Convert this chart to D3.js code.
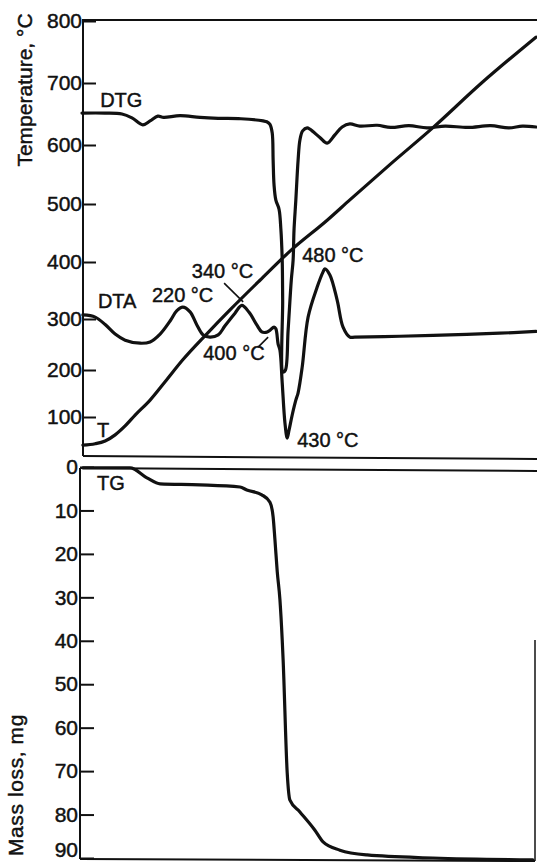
<!DOCTYPE html>
<html>
<head>
<meta charset="utf-8">
<script src="https://cdn.jsdelivr.net/npm/d3@7"></script>
<style>
  html, body { margin: 0; padding: 0; background: #fff; }
  svg { display: block; }
  text { font-family: "Liberation Sans", Arial, sans-serif; fill: #111; stroke: #111; stroke-width: 0.45px; }
</style>
</head>
<body>
<script>
// ---------------- data ----------------
// time axis: arbitrary units 0..100 across the plot width
const tempTicks = [100, 200, 300, 400, 500, 600, 700, 800];
const massTicks = [0, 10, 20, 30, 40, 50, 60, 70, 80, 90];

// T curve: temperature (°C) vs time
const tTime = [0.2, 2.9, 5.1, 7.3, 9.5, 11.7, 15, 18.3, 22.2, 27.5, 32.6, 39.2, 46, 54, 59, 68, 77.3, 88, 100];
const tTemp = [40, 43, 49, 62, 81, 104, 136, 175, 220, 271, 316, 368, 420, 472, 507, 568, 628, 700, 774];

// DTG curve (arbitrary signal units)
const dtgTime = [0, 5, 8.8, 11, 13.4, 15, 16.7, 18, 21.6, 26, 30, 35, 39.9, 40.7, 41.4, 41.9, 42.1, 42.3, 42.7, 43.4, 43.8, 44.1, 44.2, 44.3, 44.8, 45.4, 46.1, 46.5, 46.7, 47.1, 47.6, 48.0, 48.6, 49.6, 50.2, 52.4, 54.0, 55.7, 57.3, 59, 61.2, 65, 68, 72, 76, 80, 85, 90, 94, 97, 100];
const dtgValue = [78.6, 78.6, 78.4, 77.5, 75.9, 76.8, 77.9, 77.6, 78.0, 77.6, 77.4, 77.3, 76.8, 76.6, 76.0, 74.0, 67.8, 62.1, 58.6, 56.5, 52.0, 44.8, 35.6, 19.1, 19.5, 28.7, 40.2, 44.8, 51.7, 58.6, 67.8, 72.4, 74.5, 75.2, 74.9, 73.0, 71.7, 73.6, 75.4, 76.1, 75.6, 75.8, 75.3, 75.7, 75.2, 75.6, 75.3, 75.7, 75.2, 75.6, 75.4];

// DTA curve (arbitrary signal units)
const dtaTime = [0.2, 2.9, 5.1, 7.3, 9.5, 12.8, 15, 17.2, 19.4, 20.9, 22.2, 23.8, 25.3, 26.7, 28.2, 30.0, 31.5, 33.7, 35.2, 36.8, 38.5, 39.6, 40.5, 41.3, 42.3, 42.7, 43.2, 43.6, 44.1, 44.7, 45.2, 45.6, 46.3, 47.1, 47.6, 48.5, 49.8, 51.8, 53.1, 53.5, 54.6, 56.2, 57.5, 59.0, 60.1, 70, 81, 92, 100];
const dtaValue = [32.2, 31.7, 30.0, 27.8, 26.4, 25.7, 26.0, 27.8, 30.8, 33.2, 34.0, 32.9, 29.9, 27.6, 27.1, 27.6, 29.7, 32.6, 34.4, 32.8, 29.9, 28.3, 28.2, 28.6, 29.4, 29.0, 25.5, 24.1, 16.6, 7.4, 3.9, 5.7, 9.2, 12.6, 14.3, 20.2, 31.7, 38.6, 42.1, 42.8, 41.4, 35.6, 29.4, 27.1, 27.1, 27.3, 27.6, 28.0, 28.4];

// TG curve: mass loss (mg) vs time
const tgTime = [0.2, 5, 10.6, 14.3, 17.2, 26, 34.8, 36.3, 39.6, 41.4, 42.1, 42.5, 43.0, 43.6, 44.1, 44.3, 45.2, 45.8, 48.0, 51.3, 53.1, 56.8, 62.8, 77.3, 99.3];
const tgMass = [0.2, 0.2, 0.2, 2.5, 3.9, 4.1, 4.6, 5.3, 6.4, 8.1, 11.5, 16.8, 24.0, 30.6, 39.8, 44.4, 70.4, 76.7, 79.4, 83.6, 86.3, 88.2, 89.3, 90.0, 90.4];

// annotations
const upperLabels = ["DTG", "DTA", "220 °C", "340 °C", "400 °C", "480 °C", "430 °C", "T"];
const upperLabelTime = [4.0, 3.5, 15.4, 24.2, 26.7, 48.5, 47.4, 3.3];
const upperLabelValue = [80.0, 33.8, 35.2, 40.7, 21.8, 44.4, 1.8, 4.1];
const leaderTime = [[31.3, 35.5], [38.8, 41.0]];
const leaderValue = [[39.5, 35.2], [24.8, 27.1]];
const lowerLabels = ["TG"];
const lowerLabelTime = [3.3];
const lowerLabelMass = [5.3];

// ---------------- drawing ----------------
const W = 537, H = 864;
const svg = d3.select("body").append("svg").attr("width", W).attr("height", H);
const ink = "#111";

const x = d3.scaleLinear().domain([0, 100]).range([82, 536]);
// the temperature axis of the original is not evenly spaced
const yTemp = d3.scaleLinear().domain(tempTicks).range([417, 370, 319, 262, 204, 145, 83, 21]);
const ySig = d3.scaleLinear().domain([0, 100]).range([455, 20]);
const yMass = d3.scaleLinear().domain([0, 90]).range([467, 858]);

const topP = { left: 83, right: 537, top: 20, bottom: 456 };
const botP = { left: 80, right: 535, top: 468, bottom: 859 };

// frames
const frame = svg.append("g").attr("stroke", ink).attr("stroke-width", 2).attr("fill", "none");
frame.append("line").attr("x1", topP.left).attr("x2", topP.right).attr("y1", topP.top).attr("y2", topP.top);
frame.append("line").attr("x1", topP.left).attr("x2", topP.left).attr("y1", topP.top - 1).attr("y2", topP.bottom);
frame.append("line").attr("x1", topP.left).attr("x2", topP.right).attr("y1", topP.bottom).attr("y2", topP.bottom + 3);
frame.append("line").attr("x1", botP.left).attr("x2", botP.right + 2).attr("y1", botP.top).attr("y2", botP.top + 3);
frame.append("line").attr("x1", botP.left).attr("x2", botP.left).attr("y1", botP.top).attr("y2", botP.bottom);
frame.append("line").attr("x1", botP.left).attr("x2", botP.right).attr("y1", botP.bottom).attr("y2", botP.bottom + 2);
frame.append("line").attr("x1", botP.right).attr("x2", botP.right).attr("y1", 640).attr("y2", botP.bottom + 2).attr("stroke-width", 1.5);

// axes
function styleAxis(g) {
  g.select(".domain").remove();
  g.selectAll(".tick line").attr("stroke", ink).attr("stroke-width", 2);
  g.selectAll(".tick text").attr("fill", ink).style("font-size", "21px")
    .style("font-family", "'Liberation Sans', Arial, sans-serif");
}
svg.append("g").attr("transform", `translate(${topP.left},0)`)
  .call(d3.axisLeft(yTemp).tickValues(tempTicks).tickSize(-13).tickPadding(1).tickFormat(d3.format("d")))
  .call(styleAxis);
const massAxis = svg.append("g").attr("transform", `translate(${botP.left},0)`)
  .call(d3.axisLeft(yMass).tickValues(massTicks).tickSize(-14).tickPadding(2).tickFormat(d3.format("d")))
  .call(styleAxis);
// the last label sits against the bottom edge of the page
massAxis.selectAll(".tick text").filter(d => d === 90).attr("dy", "-0.08em");

// axis titles
svg.append("text").attr("transform", "translate(32,90) rotate(-90)")
  .attr("text-anchor", "middle").style("font-size", "21px").text("Temperature, °C");
svg.append("text").attr("transform", "translate(23,785) rotate(-90)")
  .attr("text-anchor", "middle").style("font-size", "21px").style("letter-spacing", "0.6px").text("Mass loss, mg");

// curves
const curveStyle = sel => sel.attr("fill", "none").attr("stroke", ink).attr("stroke-width", 3.2)
  .attr("stroke-linejoin", "round").attr("stroke-linecap", "round");

const lineT = d3.line().x(i => x(tTime[i])).y(i => yTemp(tTemp[i])).curve(d3.curveMonotoneX);
svg.append("path").attr("d", lineT(d3.range(tTime.length))).call(curveStyle);

const lineDTG = d3.line().x(i => x(dtgTime[i])).y(i => ySig(dtgValue[i])).curve(d3.curveCatmullRom.alpha(0.5));
svg.append("path").attr("d", lineDTG(d3.range(dtgTime.length))).call(curveStyle);

const lineDTA = d3.line().x(i => x(dtaTime[i])).y(i => ySig(dtaValue[i])).curve(d3.curveCatmullRom.alpha(0.5));
svg.append("path").attr("d", lineDTA(d3.range(dtaTime.length))).call(curveStyle);

const lineTG = d3.line().x(i => x(tgTime[i])).y(i => yMass(tgMass[i])).curve(d3.curveMonotoneX);
svg.append("path").attr("d", lineTG(d3.range(tgTime.length))).call(curveStyle);

// annotations
svg.append("g").selectAll("text").data(upperLabels).join("text")
  .attr("x", (d, i) => x(upperLabelTime[i]))
  .attr("y", (d, i) => ySig(upperLabelValue[i]))
  .style("font-size", "20px").text(d => d);
svg.append("g").selectAll("line").data(leaderTime).join("line")
  .attr("x1", d => x(d[0])).attr("x2", d => x(d[1]))
  .attr("y1", (d, i) => ySig(leaderValue[i][0])).attr("y2", (d, i) => ySig(leaderValue[i][1]))
  .attr("stroke", ink).attr("stroke-width", 1.6);
svg.append("g").selectAll("text").data(lowerLabels).join("text")
  .attr("x", (d, i) => x(lowerLabelTime[i]))
  .attr("y", (d, i) => yMass(lowerLabelMass[i]))
  .style("font-size", "20px").text(d => d);
</script>
</body>
</html>
